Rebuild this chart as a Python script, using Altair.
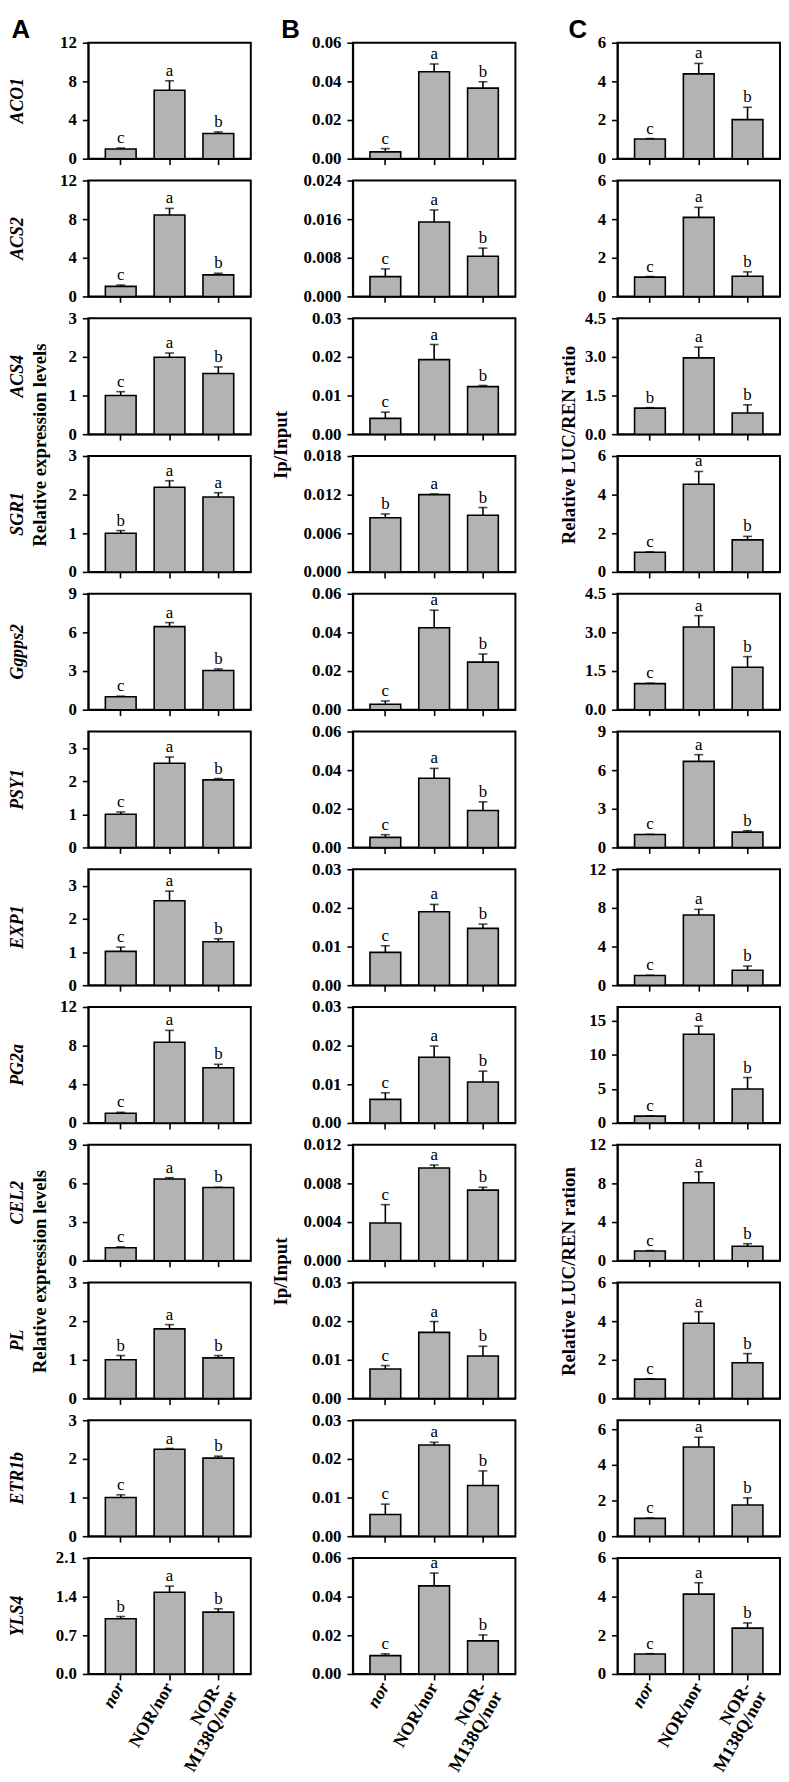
import altair as alt
import pandas as pd

GROUPS = ["nor", "NOR/nor", "NOR-M138Q/nor"]
GENES = ["ACO1", "ACS2", "ACS4", "SGR1", "Ggpps2", "PSY1",
         "EXP1", "PG2a", "CEL2", "PL", "ETR1b", "YLS4"]

# ---------- Column A: relative expression levels ----------
A_MEAN = [[1.0, 7.09, 2.6], [1.04, 8.42, 2.23], [1.0, 1.99, 1.57], [1.0, 2.19, 1.94],
          [1.0, 6.45, 3.04], [1.0, 2.54, 2.04], [1.02, 2.55, 1.31], [1.0, 8.35, 5.72],
          [1.0, 6.34, 5.68], [1.0, 1.8, 1.05], [1.0, 2.25, 2.02], [1.0, 1.48, 1.12]]
A_UPPER = [[1.1, 8.06, 2.77], [1.18, 9.11, 2.4], [1.1, 2.1, 1.74], [1.07, 2.36, 2.05],
           [1.05, 6.76, 3.16], [1.07, 2.73, 2.08], [1.15, 2.84, 1.4], [1.1, 9.58, 6.07],
           [1.08, 6.44, 5.7], [1.11, 1.91, 1.11], [1.07, 2.27, 2.07], [1.04, 1.59, 1.18]]
A_LETTERS = [["c", "a", "b"], ["c", "a", "b"], ["c", "a", "b"], ["b", "a", "a"],
             ["c", "a", "b"], ["c", "a", "b"], ["c", "a", "b"], ["c", "a", "b"],
             ["c", "a", "b"], ["b", "a", "b"], ["c", "a", "b"], ["b", "a", "b"]]
A_YMAX = [12, 12, 3, 3, 9, 3.5, 3.5, 12, 9, 3, 3, 2.1]
A_TICKS = [[0, 4, 8, 12], [0, 4, 8, 12], [0, 1, 2, 3], [0, 1, 2, 3], [0, 3, 6, 9],
           [0, 1, 2, 3], [0, 1, 2, 3], [0, 4, 8, 12], [0, 3, 6, 9], [0, 1, 2, 3],
           [0, 1, 2, 3], [0, 0.7, 1.4, 2.1]]
A_FMT = ["d"] * 11 + [".1f"]

# ---------- Column B: Ip/Input ----------
B_MEAN = [[0.0035, 0.045, 0.0365], [0.0041, 0.0154, 0.0083], [0.0041, 0.0193, 0.0123],
          [0.0084, 0.012, 0.0088], [0.0028, 0.0424, 0.0246], [0.0052, 0.0358, 0.0191],
          [0.0085, 0.019, 0.0147], [0.0061, 0.017, 0.0106], [0.0039, 0.0096, 0.0073],
          [0.0076, 0.0171, 0.011], [0.0056, 0.0236, 0.0131], [0.0095, 0.0456, 0.0171]]
B_UPPER = [[0.0052, 0.049, 0.0398], [0.0057, 0.0179, 0.010], [0.0057, 0.0232, 0.0126],
           [0.009, 0.0121, 0.010], [0.0045, 0.0515, 0.0288], [0.0066, 0.0409, 0.0236],
           [0.0102, 0.0209, 0.0158], [0.0078, 0.0199, 0.0134], [0.0058, 0.0099, 0.0076],
           [0.0085, 0.0199, 0.0135], [0.0083, 0.0243, 0.0169], [0.0104, 0.0522, 0.0202]]
B_LETTERS = [["c", "a", "b"]] * 3 + [["b", "a", "b"]] + [["c", "a", "b"]] * 8
B_YMAX = [0.06, 0.024, 0.03, 0.018, 0.06, 0.06, 0.03, 0.03, 0.012, 0.03, 0.03, 0.06]
B_TICKS = [[0, 0.02, 0.04, 0.06], [0, 0.008, 0.016, 0.024], [0, 0.01, 0.02, 0.03],
           [0, 0.006, 0.012, 0.018], [0, 0.02, 0.04, 0.06], [0, 0.02, 0.04, 0.06],
           [0, 0.01, 0.02, 0.03], [0, 0.01, 0.02, 0.03], [0, 0.004, 0.008, 0.012],
           [0, 0.01, 0.02, 0.03], [0, 0.01, 0.02, 0.03], [0, 0.02, 0.04, 0.06]]
B_FMT = [".2f", ".3f", ".2f", ".3f", ".2f", ".2f", ".2f", ".2f", ".3f", ".2f", ".2f", ".2f"]

# ---------- Column C: relative LUC/REN ratio ----------
C_MEAN = [[1.02, 4.39, 2.02], [1.0, 4.09, 1.04], [1.01, 2.96, 0.82], [1.02, 4.54, 1.66],
          [1.01, 3.21, 1.65], [1.0, 6.68, 1.19], [1.0, 7.27, 1.54], [1.0, 13.0, 4.97],
          [1.0, 8.06, 1.5], [1.0, 3.89, 1.85], [1.0, 5.0, 1.75], [1.03, 4.13, 2.37]]
C_UPPER = [[1.04, 4.93, 2.66], [1.03, 4.61, 1.27], [1.03, 3.38, 1.14], [1.04, 5.2, 1.84],
           [1.03, 3.65, 2.06], [1.02, 7.2, 1.3], [1.03, 7.85, 1.98], [1.05, 14.2, 6.66],
           [1.05, 9.2, 1.76], [1.02, 4.49, 2.32], [1.02, 5.55, 2.15], [1.05, 4.72, 2.64]]
C_LETTERS = [["c", "a", "b"]] * 2 + [["b", "a", "b"]] + [["c", "a", "b"]] * 9
C_YMAX = [6, 6, 4.5, 6, 4.5, 9, 12, 17, 12, 6, 6.5, 6]
C_TICKS = [[0, 2, 4, 6], [0, 2, 4, 6], [0, 1.5, 3, 4.5], [0, 2, 4, 6], [0, 1.5, 3, 4.5],
           [0, 3, 6, 9], [0, 4, 8, 12], [0, 5, 10, 15], [0, 4, 8, 12], [0, 2, 4, 6],
           [0, 2, 4, 6], [0, 2, 4, 6]]
C_FMT = ["d", "d", ".1f", "d", ".1f", "d", "d", "d", "d", "d", "d", "d"]

SHARED = {
    "A": {2: "Relative expression levels", 8: "Relative expression levels"},
    "B": {2: "Ip/Input", 8: "Ip/Input"},
    "C": {2: "Relative LUC/REN ratio", 8: "Relative LUC/REN ration"},
}
COLS = {
    "A": (A_MEAN, A_UPPER, A_LETTERS, A_YMAX, A_TICKS, A_FMT),
    "B": (B_MEAN, B_UPPER, B_LETTERS, B_YMAX, B_TICKS, B_FMT),
    "C": (C_MEAN, C_UPPER, C_LETTERS, C_YMAX, C_TICKS, C_FMT),
}

W, H, GAP, COLGAP = 164, 117, 22, 103
SERIF = "Liberation Serif"
SHARED_X = {"A": -49, "B": -72, "C": -49}
LETTER_X = {"A": -68, "B": -63, "C": -40}


def annot(text, x, y, size, style="normal", font=SERIF, angle=270):
    return alt.Chart(pd.DataFrame({"t": [text]})).mark_text(
        angle=angle, font=font, fontSize=size, fontWeight="bold", fontStyle=style,
        align="center", baseline="middle", color="black", fill="black"
    ).encode(x=alt.value(x), y=alt.value(y), text="t:N")


def panel(col, i):
    mean, upper, letters, ymax, ticks, fmt = COLS[col]
    df = pd.DataFrame({"g": GROUPS, "v": mean[i], "u": upper[i], "l": letters[i]})
    last = i == len(GENES) - 1
    if last:
        xaxis = alt.Axis(
            title=None, labelAngle=-60, labelAlign="right", labelBaseline="middle",
            labelPadding=4, labelLineHeight=18, labelFontSize=18,
            labelExpr="datum.label == 'NOR-M138Q/nor' ? ['NOR-', 'M138Q/nor'] : datum.label",
            labelFontStyle={"condition": {"test": "datum.value == 'nor'", "value": "italic"},
                            "value": "normal"},
        )
    else:
        xaxis = alt.Axis(title=None, labels=False)
    yaxis = alt.Axis(values=ticks[i], format=fmt[i], title=None, labelFlush=False,
                     labelOverlap=False, tickCount=len(ticks[i]))
    xscale = alt.Scale(domain=GROUPS, paddingInner=0.37, paddingOuter=0.35)
    yscale = alt.Scale(domain=[0, ymax[i]], nice=False, zero=True)
    x = alt.X("g:N", scale=xscale, axis=xaxis, title=None)
    base = alt.Chart(df)
    bars = base.mark_bar(fill="#b3b3b3", stroke="black", strokeWidth=1.6).encode(
        x=x, y=alt.Y("v:Q", scale=yscale, axis=yaxis, title=None))
    rule = base.mark_rule(color="black", strokeWidth=1.6).encode(
        x=x, y=alt.Y("v:Q", scale=yscale, axis=yaxis, title=None), y2="u:Q")
    cap = base.mark_tick(color="black", size=9, thickness=1.6, orient="horizontal").encode(
        x=x, y=alt.Y("u:Q", scale=yscale, axis=yaxis, title=None))
    txt = base.mark_text(font=SERIF, fontSize=17, baseline="bottom", dy=-1,
                         color="black", fill="black").encode(
        x=x, y=alt.Y("u:Q", scale=yscale, axis=yaxis, title=None), text="l:N")
    layers = [bars, rule, cap, txt]
    if col == "A":
        layers.append(annot(GENES[i], -71, H / 2, 18, style="italic"))
    if i in SHARED[col]:
        layers.append(annot(SHARED[col][i], SHARED_X[col], H + GAP / 2, 19))
    if i == 0:
        layers.append(annot(col, LETTER_X[col], -13, 26, font="Liberation Sans", angle=0))
    return alt.layer(*layers).properties(width=W, height=H)


panels = []
for i in range(len(GENES)):
    for col in ["A", "B", "C"]:
        panels.append(panel(col, i))

chart = alt.concat(
    *panels, columns=3, spacing={"row": GAP, "column": COLGAP}, bounds="flush", align="all"
).properties(
    padding=0, background="white"
).configure_view(
    stroke="black", strokeWidth=2
).configure_axis(
    domainColor="black", domainWidth=1.6, tickColor="black", tickWidth=1.6, tickSize=6,
    labelFont=SERIF, labelFontWeight="bold", labelFontSize=17, labelColor="black",
    labelPadding=6, grid=False
)

chart.save("out.html", embed_options={"renderer": "svg", "actions": False})
